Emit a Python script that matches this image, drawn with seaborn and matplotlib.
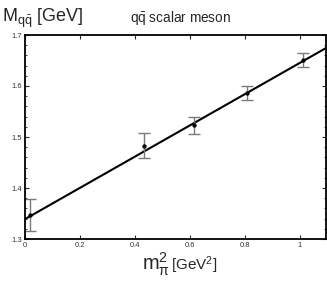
import numpy as np
import pandas as pd
import matplotlib
matplotlib.use('Agg')
import matplotlib.pyplot as plt
from matplotlib.ticker import MultipleLocator
import seaborn as sns

# datos
mpi2 = [0.018, 0.432, 0.616, 0.806, 1.010]
masa = [1.347, 1.483, 1.523, 1.586, 1.651]
error = [0.032, 0.024, 0.017, 0.014, 0.013]

# recta de ajuste (extremos)
ajuste_x = [0.0, 1.1]
ajuste_y = [1.339, 1.676]

sns.set_style('ticks')
plt.rcParams['font.family'] = ['Liberation Sans', 'DejaVu Sans']
plt.rcParams['mathtext.fontset'] = 'custom'
plt.rcParams['mathtext.rm'] = 'Liberation Sans'
plt.rcParams['mathtext.it'] = 'Liberation Sans'

df = pd.DataFrame({'mpi2': mpi2, 'masa': masa, 'error': error})
df_fit = pd.DataFrame({'x': ajuste_x, 'y': ajuste_y})

fig = plt.figure(figsize=(3.27, 2.95), dpi=100)
ax = fig.add_axes([25 / 327, 1 - 239 / 295, 301 / 327, 204 / 295])

sns.lineplot(data=df_fit, x='x', y='y', color='black', linewidth=1.5, ax=ax)
ax.errorbar(df['mpi2'], df['masa'], yerr=df['error'], fmt='none',
            ecolor='#7a7a7a', elinewidth=1.0, capsize=4, capthick=1.0)
sns.scatterplot(data=df, x='mpi2', y='masa', color='black', s=8,
                edgecolor='black', zorder=5, ax=ax)

ax.set_xlim(0, 1.095)
ax.set_ylim(1.3, 1.7)
ax.yaxis.set_minor_locator(MultipleLocator(0.02))
ax.set_xticks([0, 0.2, 0.4, 0.6, 0.8, 1.0])
ax.set_xticklabels(['0', '0.2', '0.4', '0.6', '0.8', '1'])
ax.set_yticks([1.3, 1.4, 1.5, 1.6, 1.7])
ax.set_yticklabels(['1.3', '1.4', '1.5', '1.6', '1.7'])
ax.tick_params(which='both', direction='in', top=True, right=True,
               labelsize=5.5, pad=2, labelcolor='#333333')
ax.tick_params(which='major', length=3, width=0.8)
ax.tick_params(which='minor', length=1.5, width=0.6)
for sp in ax.spines.values():
    sp.set_linewidth(1.3)
    sp.set_color('black')
ax.set_xlabel('')
ax.set_ylabel('')

# etiquetas
fig.text(0.005, 1 - 18 / 295, r'M$_{\mathregular{q\bar{q}}}$ [GeV]',
         fontsize=13, va='center', ha='left')
fig.text(181 / 327, 1 - 18 / 295, r'q$\mathregular{\bar{q}}$ scalar meson',
         fontsize=9.8, va='center', ha='center')
fig.text(142 / 327, 1 - 270 / 295, r'm$_{\pi}^{\mathregular{2}}$',
         fontsize=14.5, va='baseline', ha='left')
fig.text(171 / 327, 1 - 270 / 295, r'[GeV$^{\mathregular{2}}$]',
         fontsize=11, va='baseline', ha='left')

fig.savefig('out.png', dpi=100)
